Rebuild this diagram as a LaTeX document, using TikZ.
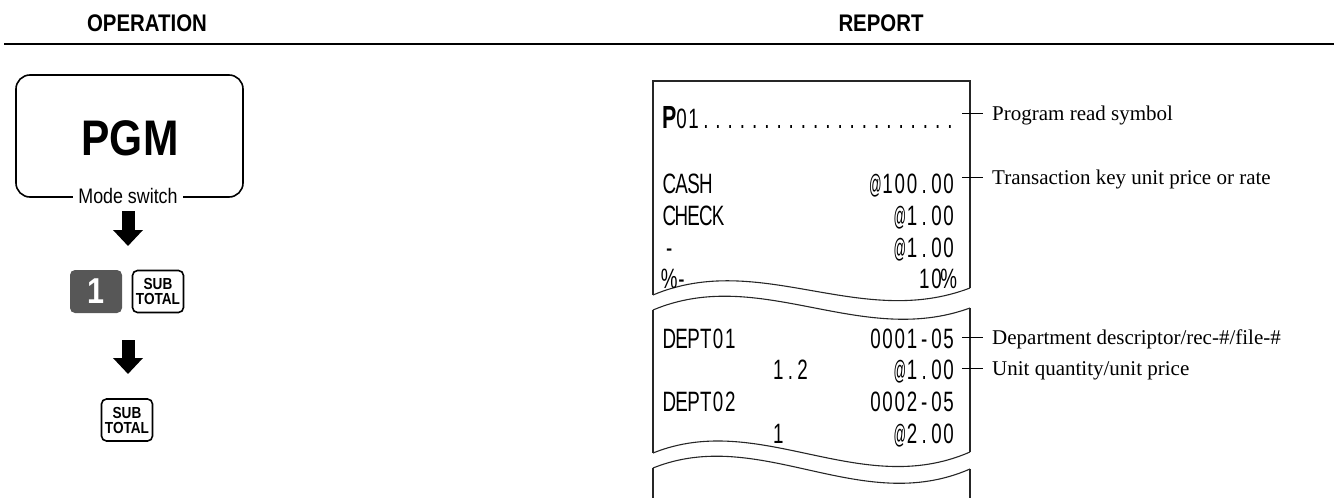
\documentclass[tikz,border=0pt]{standalone}
\usepackage{fontspec}
\usepackage{graphicx}
\setmainfont{Liberation Serif}
\newfontfamily\hsans[FakeStretch=0.85]{Liberation Sans}
\newfontfamily\rcpt[FakeStretch=0.67]{Liberation Sans}
\usetikzlibrary{arrows.meta}
\definecolor{keygray}{HTML}{575757}
\newcommand\mchar[1]{\makebox[12.2pt][c]{#1}}
\def\mono#1{\monoi#1\relax}
\def\monoi#1{\ifx#1\relax\else\mchar{#1}\expandafter\monoi\fi}
\newcommand\rat{\scalebox{0.66}[0.95]{@}}
\tikzset{
  hdr/.style={font=\hsans\bfseries\fontsize{24}{24}\selectfont, inner sep=0pt},
  keyone/.style={fill=keygray, rounded corners=5pt, minimum width=52pt, minimum height=43pt, inner sep=0pt, text=white, font=\hsans\bfseries\fontsize{36}{36}\selectfont},
  keysub/.style={draw=black, line width=1.6pt, rounded corners=5pt, minimum width=51pt, minimum height=42pt, inner sep=0pt, align=center, font=\hsans\bfseries\fontsize{16}{15}\selectfont},
  blockarrow/.style={line width=13pt, -{Triangle[length=16pt,width=29pt]}, shorten >=0pt},
  rl/.style={font=\rcpt\fontsize{28}{28}\selectfont, inner sep=0pt, anchor=base west},
  rr/.style={font=\rcpt\fontsize{28}{28}\selectfont, inner sep=0pt, anchor=base east},
  paper/.style={line width=1.1pt, draw=black!85},
  lbl/.style={font=\fontsize{21}{21}\selectfont, inner sep=0pt, anchor=base west},
  tick/.style={line width=0.9pt},
}
\begin{document}
\begin{tikzpicture}[x=1pt,y=-1pt]
\useasboundingbox (0,0) rectangle (1334,498);
% header
\node[hdr] (hop) at (147,23) {OPERATION};
\node[hdr] (hrep) at (881,23) {REPORT};
\coordinate (hl) at (4,44);
\coordinate (hr) at (1334,44);
\draw[line width=2.6pt] (hl) -- (hr);
% mode switch box
\draw[line width=1.6pt, rounded corners=14pt] (16,75) rectangle (243,197);
\node[font=\hsans\bfseries\fontsize{50}{50}\selectfont, inner sep=0pt] (pgm) at (130,138) {PGM};
\node[fill=white, inner xsep=5pt, inner ysep=1pt, font=\hsans\fontsize{21}{21}\selectfont] (ms) at (128,196) {Mode switch};
% arrows and keys
\coordinate (a1s) at (128,211);
\coordinate (a1e) at (128,246);
\draw[blockarrow] (a1s) -- (a1e);
\node[keyone] (k1) at (96,291.5) {1};
\node[keysub] (ks1) at (158,291.5) {SUB\\TOTAL};
\coordinate (a2s) at (128,340);
\coordinate (a2e) at (128,374);
\draw[blockarrow] (a2s) -- (a2e);
\node[keysub] (ks2) at (127,420) {SUB\\TOTAL};
% receipt paper pieces
\draw[paper] (653,295) -- (653,81) -- (970,81) -- (970,288);
\draw[paper] (653,295) .. controls (760,250) and (860,330) .. (970,288);
\draw[paper] (653,310) .. controls (760,265) and (860,348) .. (970,308);
\draw[paper] (653,310) -- (653,453);
\draw[paper] (970,308) -- (970,452);
\draw[paper] (653,453) .. controls (760,410) and (860,500) .. (970,452);
\draw[paper] (653,468) .. controls (760,425) and (860,517) .. (970,469);
\draw[paper] (653,468) -- (653,498);
\draw[paper] (970,469) -- (970,498);
% receipt text
\node[rl] (r1) at (663,128) {\mchar{\fontsize{32}{32}\selectfont\bfseries P}\mono{01.....................}};
\node[rl] (r2l) at (663,193) {\mono{CASH}};
\node[rr] (r2r) at (955,193) {\mono{\rat100.00}};
\node[rl] (r3l) at (663,225) {\mono{CHECK}};
\node[rr] (r3r) at (955,225) {\mono{\rat1.00}};
\node[rl] (r4l) at (663,257) {\mono{-}};
\node[rr] (r4r) at (955,257) {\mono{\rat1.00}};
\node[rl] (r5l) at (663,288) {\mono{\%-}};
\node[rr] (r5r) at (955,288) {\mono{10\%}};
\node[rl] (r6l) at (663,348) {\mono{DEPT01}};
\node[rr] (r6r) at (955,348) {\mono{0001-05}};
\node[rl] (r7l) at (772,379) {\mono{1.2}};
\node[rr] (r7r) at (955,379) {\mono{\rat1.00}};
\node[rl] (r8l) at (663,411) {\mono{DEPT02}};
\node[rr] (r8r) at (955,411) {\mono{0002-05}};
\node[rl] (r9l) at (772,443) {\mono{1}};
\node[rr] (r9r) at (955,443) {\mono{\rat2.00}};
% labels
\coordinate (t1a) at (962,113); \coordinate (t1b) at (983,113);
\draw[tick] (t1a) -- (t1b);
\node[lbl] (l1) at (992,120) {Program read symbol};
\coordinate (t2a) at (962,177); \coordinate (t2b) at (983,177);
\draw[tick] (t2a) -- (t2b);
\node[lbl] (l2) at (992,184) {Transaction key unit price or rate};
\coordinate (t3a) at (962,337); \coordinate (t3b) at (983,337);
\draw[tick] (t3a) -- (t3b);
\node[lbl] (l3) at (992,344) {Department descriptor/rec-\#/file-\#};
\coordinate (t4a) at (962,368); \coordinate (t4b) at (983,368);
\draw[tick] (t4a) -- (t4b);
\node[lbl] (l4) at (992,375) {Unit quantity/unit price};
\end{tikzpicture}
\end{document}
